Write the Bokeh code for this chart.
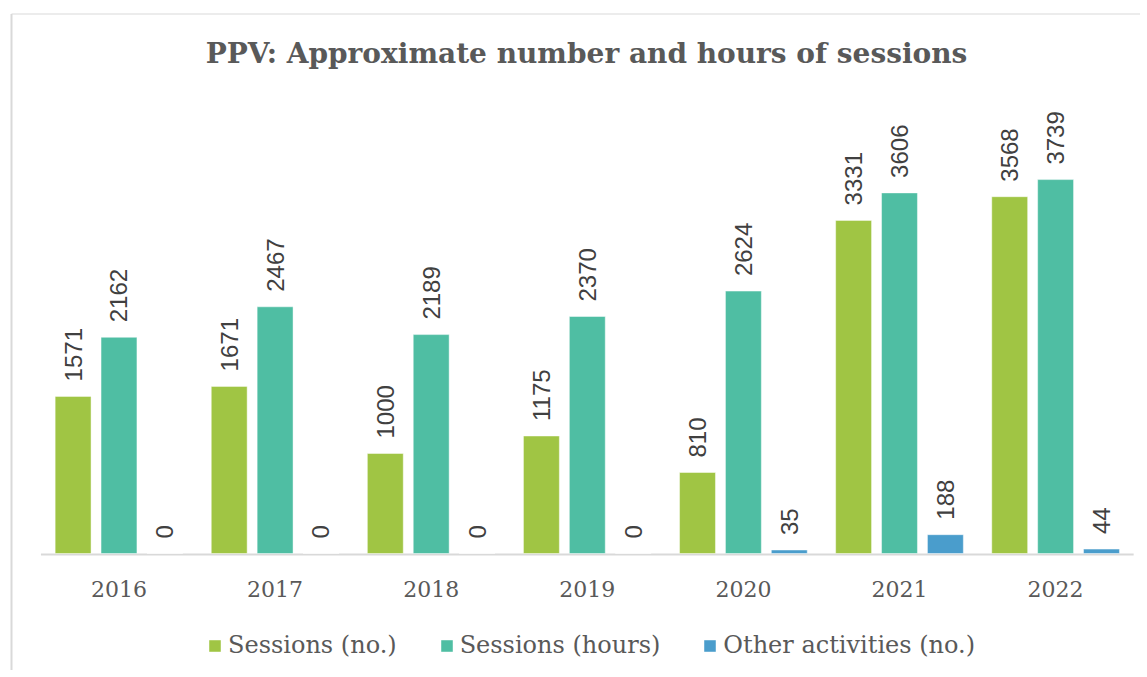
import numpy as np
from bokeh.plotting import figure
from bokeh.models import ColumnDataSource, Range1d, Legend, LegendItem, Label
from bokeh.core.properties import value
from bokeh.transform import dodge
from bokeh.embed import file_html
from bokeh.resources import INLINE

# ---- data ----
years = ["2016", "2017", "2018", "2019", "2020", "2021", "2022"]
sessions_no = [1571, 1671, 1000, 1175, 810, 3331, 3568]
sessions_hours = [2162, 2467, 2189, 2370, 2624, 3606, 3739]
other_activities = [0, 0, 0, 0, 35, 188, 44]
series_names = ["Sessions (no.)", "Sessions (hours)", "Other activities (no.)"]
title_text = "PPV: Approximate number and hours of sessions"

# ---- styling ----
colors = ["#A0C544", "#4FBEA3", "#4A9DCC"]
text_grey = "#595959"
label_grey = "#404040"
border_grey = "#D9D9D9"

W, H = 1140, 670
x_start, x_end = -0.2591, 7.0439
y_start, y_end = -1170, 5530
px_per_x = W / (x_end - x_start)
px_per_y = H / (y_end - y_start)

bar_w = 0.23
offset = 0.294

src = ColumnDataSource(dict(
    x=np.arange(len(years)) + 0.5,
    year=years,
    s_no=sessions_no,
    s_hours=sessions_hours,
    other=other_activities,
    s_no_lbl=[str(v) for v in sessions_no],
    s_hours_lbl=[str(v) for v in sessions_hours],
    other_lbl=[str(v) for v in other_activities],
))

p = figure(width=W, height=H, output_backend="svg", toolbar_location=None,
           x_range=Range1d(x_start, x_end), y_range=Range1d(y_start, y_end),
           x_axis_location=None, y_axis_location=None, title=None,
           min_border=0, min_border_left=0, min_border_right=0,
           min_border_top=0, min_border_bottom=0,
           outline_line_color=None, background_fill_color="white",
           border_fill_color="white")
p.grid.visible = False

# chart border (left + top)
bx = x_start + 11 / px_per_x
by = y_end - 13.5 / px_per_y
p.segment(x0=[bx], y0=[by], x1=[bx], y1=[y_start], line_color=border_grey, line_width=2)
p.segment(x0=[bx], y0=[by], x1=[x_end], y1=[by], line_color=border_grey, line_width=1)

# category axis baseline
base_y = -1 / px_per_y
p.segment(x0=[0], y0=[base_y], x1=[len(years)], y1=[base_y], line_color=border_grey, line_width=2)

renderers = []
for col, lbl, off, c in [("s_no", "s_no_lbl", -offset, colors[0]),
                         ("s_hours", "s_hours_lbl", 0.0, colors[1]),
                         ("other", "other_lbl", offset, colors[2])]:
    r = p.vbar(x=dodge("x", off, range=p.x_range), top=col, bottom=0, width=bar_w,
               source=src, fill_color=c, line_color="white", line_alpha=0.45, line_width=1)
    renderers.append(r)
    p.text(x=dodge("x", off, range=p.x_range), y=col, text=lbl, source=src,
           angle=np.pi / 2, text_align="left", text_baseline="middle",
           y_offset=-15, text_font=value("Liberation Sans"), text_font_size="24px",
           text_color=label_grey)

# category labels
p.text(x="x", y=-35 / px_per_y, text="year", source=src, text_align="center",
       text_baseline="middle", text_font=value("DejaVu Serif"), text_font_size="22px",
       text_color=text_grey)

# title
p.add_layout(Label(x=586, y=617, x_units="screen", y_units="screen", text=title_text,
                   text_align="center", text_baseline="middle", text_font="DejaVu Serif",
                   text_font_style="bold", text_font_size="28px", text_color=text_grey))

legend = Legend(items=[LegendItem(label=n, renderers=[r]) for n, r in zip(series_names, renderers)],
                orientation="horizontal", location=(207, 11), glyph_width=15, glyph_height=15,
                label_standoff=6, spacing=42, padding=0, margin=0, border_line_color=None,
                background_fill_alpha=0, label_text_font="DejaVu Serif",
                label_text_font_size="24px", label_text_color=text_grey)
p.add_layout(legend)

open("out.html", "w").write(file_html(p, INLINE))
